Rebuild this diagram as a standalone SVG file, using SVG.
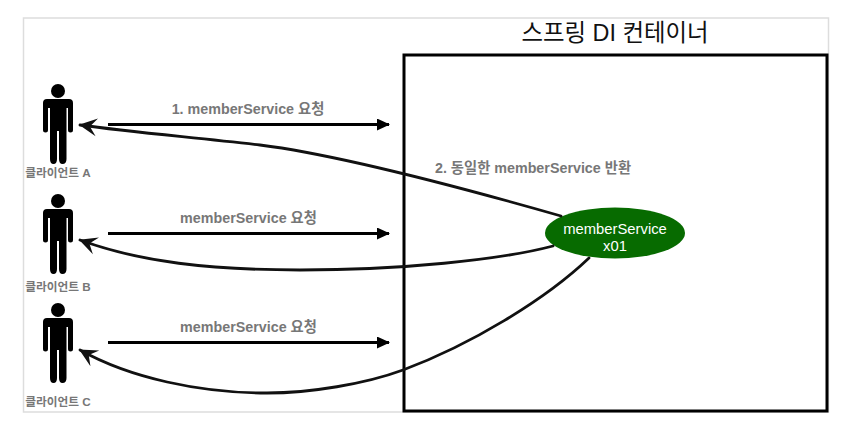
<svg xmlns="http://www.w3.org/2000/svg" width="856" height="430" viewBox="0 0 856 430">
<style>
.lbl{font-family:"Liberation Sans","Noto Sans CJK KR",sans-serif;font-weight:700;fill:#777;text-anchor:middle}
.req{font-size:14.3px}
.cap{font-size:11.700px}
.line{fill:none;stroke:#000;stroke-width:3}
.back{fill:none;stroke:#111;stroke-width:2.800;stroke-linecap:round}
</style>
<defs>
<marker id="arrow" markerUnits="userSpaceOnUse" markerWidth="14" markerHeight="12" refX="12" refY="6" orient="auto"><path d="M0 0L13 6L0 12Z" fill="#000"/></marker>
<marker id="sketch" markerUnits="userSpaceOnUse" markerWidth="20" markerHeight="20" refX="17" refY="10" orient="auto"><path d="M0 1L18 10L0 19L7 10Z" fill="#111"/></marker>
<g id="person">
<circle cx="58" cy="91" r="7"/>
<path d="M47 99H69Q73 99 73 103V130Q73 132.500 70.500 132.500Q68 132.500 68 130V108H66.500V159Q66.500 164 62.500 164Q59 164 59 159V131H57V159Q57 164 53.500 164Q50 164 50 159V108H48V130Q48 132.500 45.500 132.500Q43 132.500 43 130V103Q43 99 47 99Z"/>
</g>
</defs>
<rect id="frame" x="23.500" y="18" width="805" height="394" fill="#fff" stroke="#ddd" stroke-width="1.500"/>
<g id="container">
<rect x="404" y="55" width="423" height="356" fill="#fff" stroke="#000" stroke-width="3"/>
<text x="615" y="41" font-family="'Liberation Sans','Noto Sans CJK KR',sans-serif" font-size="23.400" fill="#111" text-anchor="middle">스프링 DI 컨테이너</text>
</g>
<g id="client-a"><use href="#person"/><text class="lbl cap" x="58" y="177">클라이언트 A</text></g>
<g id="client-b"><use href="#person" y="110"/><text class="lbl cap" x="58" y="291">클라이언트 B</text></g>
<g id="client-c"><use href="#person" y="219"/><text class="lbl cap" x="58" y="406">클라이언트 C</text></g>
<g id="member-service">
<ellipse cx="615" cy="233" rx="70" ry="25.500" fill="#076b00"/>
<text x="615" y="234" font-family="'Liberation Sans',sans-serif" font-size="14.800" fill="#fff" text-anchor="middle">memberService</text>
<text x="615" y="251" font-family="'Liberation Sans',sans-serif" font-size="14.800" fill="#fff" text-anchor="middle">x01</text>
</g>
<g id="connectors">
<path class="line" marker-end="url(#arrow)" d="M108 124.500H389"/>
<path class="line" marker-end="url(#arrow)" d="M108 233.500H389"/>
<path class="line" marker-end="url(#arrow)" d="M108 342.500H389"/>
<path class="back" marker-end="url(#sketch)" d="M561 216C470 190 340 155 260 145C190 137 130 132 80 125"/>
<path class="back" marker-end="url(#sketch)" d="M553 246C500 260 400 270 300 270C210 270 140 262 80 240"/>
<path class="back" marker-end="url(#sketch)" d="M589 258C545 300 470 345 403 370C365 384 310 393 267 393C200 393 130 378 80 350"/>
</g>
<g id="labels">
<text class="lbl req" x="248" y="114">1. memberService 요청</text>
<text class="lbl req" x="248.500" y="223">memberService 요청</text>
<text class="lbl req" x="248.500" y="332">memberService 요청</text>
<text class="lbl req" x="533" y="173">2. 동일한 memberService 반환</text>
</g>
</svg>
